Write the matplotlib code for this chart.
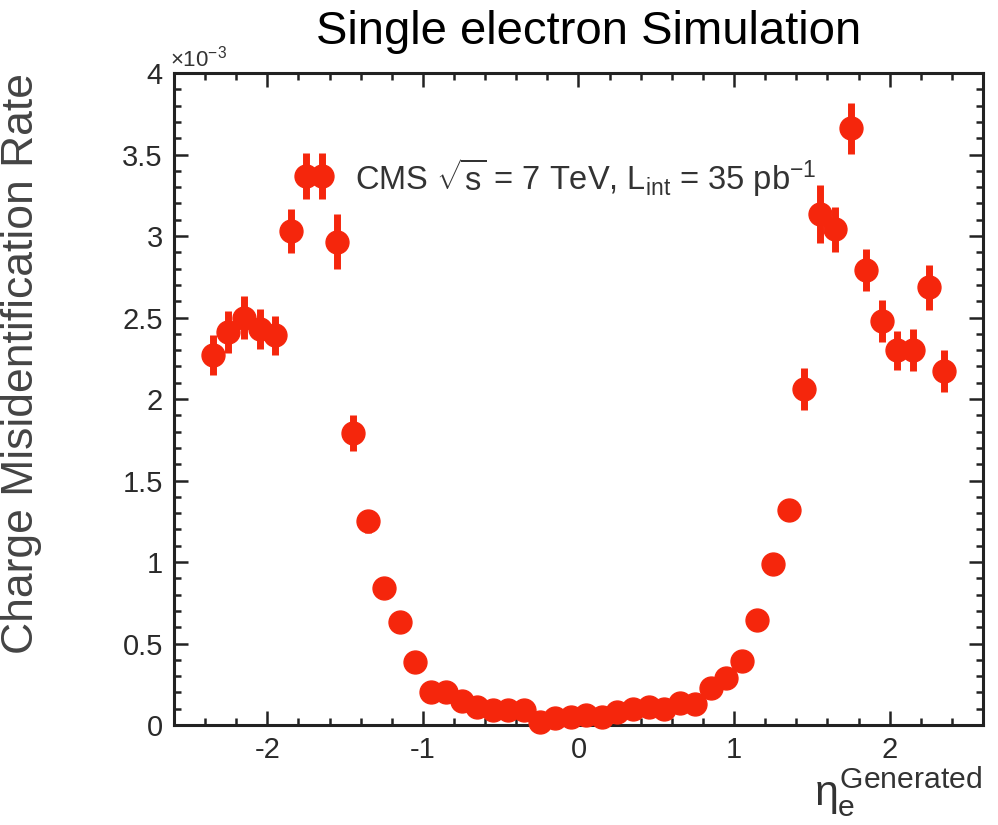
import matplotlib
matplotlib.use("Agg")
import matplotlib.pyplot as plt
from matplotlib.ticker import MultipleLocator, FixedLocator, FixedFormatter

plt.rcParams['font.family'] = ['Liberation Sans', 'DejaVu Sans']
plt.rcParams['mathtext.fontset'] = 'custom'
plt.rcParams['mathtext.rm'] = 'Liberation Sans'
plt.rcParams['mathtext.it'] = 'Liberation Sans'

# eta bin centres
eta = [-2.35, -2.25, -2.15, -2.05, -1.95, -1.85, -1.75, -1.65, -1.55, -1.45,
       -1.35, -1.25, -1.15, -1.05, -0.95, -0.85, -0.75, -0.65, -0.55, -0.45,
       -0.35, -0.25, -0.15, -0.05, 0.05, 0.15, 0.25, 0.35, 0.45, 0.55,
       0.65, 0.75, 0.85, 0.95, 1.05, 1.15, 1.25, 1.35, 1.45, 1.55,
       1.65, 1.75, 1.85, 1.95, 2.05, 2.15, 2.25, 2.35]
# charge misidentification rate (x 1e-3)
rate = [2.27, 2.41, 2.50, 2.43, 2.39, 3.03, 3.37, 3.37, 2.965, 1.79,
        1.25, 0.84, 0.634, 0.385, 0.20, 0.205, 0.15, 0.11, 0.09, 0.09,
        0.09, 0.02, 0.04, 0.05, 0.06, 0.05, 0.08, 0.10, 0.11, 0.10,
        0.135, 0.13, 0.225, 0.29, 0.39, 0.644, 0.99, 1.32, 2.06, 3.135,
        3.04, 3.66, 2.79, 2.48, 2.30, 2.30, 2.685, 2.17]
# statistical uncertainty (x 1e-3)
err = [0.125, 0.13, 0.13, 0.125, 0.12, 0.135, 0.14, 0.14, 0.17, 0.11,
       0.07, 0.04, 0.03, 0.02, 0.015, 0.015, 0.012, 0.01, 0.01, 0.01,
       0.01, 0.005, 0.007, 0.007, 0.008, 0.007, 0.01, 0.01, 0.01, 0.01,
       0.012, 0.012, 0.015, 0.017, 0.02, 0.03, 0.045, 0.06, 0.13, 0.18,
       0.14, 0.155, 0.13, 0.13, 0.12, 0.13, 0.14, 0.13]

ytick_vals = [0, 0.5, 1, 1.5, 2, 2.5, 3, 3.5, 4]
ytick_labels = ['0', '0.5', '1', '1.5', '2', '2.5', '3', '3.5', '4']
xtick_vals = [-2, -1, 0, 1, 2]
xtick_labels = ['-2', '-1', '0', '1', '2']

red = '#f5260c'

fig = plt.figure(figsize=(9.98, 8.25), dpi=100)
ax = fig.add_axes([0.1743, 0.1212, 0.8107, 0.7903])

ax.errorbar(eta, rate, yerr=err, fmt='o', color=red, ms=16.5, mec=red,
            elinewidth=5, capsize=0, clip_on=False, zorder=3)

ax.set_xlim(-2.6, 2.6)
ax.set_ylim(0, 4)

ax.xaxis.set_major_locator(FixedLocator(xtick_vals))
ax.xaxis.set_major_formatter(FixedFormatter(xtick_labels))
ax.xaxis.set_minor_locator(MultipleLocator(0.2))
ax.yaxis.set_major_locator(FixedLocator(ytick_vals))
ax.yaxis.set_major_formatter(FixedFormatter(ytick_labels))
ax.yaxis.set_minor_locator(MultipleLocator(0.1))

ax.tick_params(which='both', direction='in', top=True, right=True,
               width=1.8, colors='#222222', labelcolor='#2a2a2a',
               labelsize=21)
ax.tick_params(which='major', length=10, pad=8)
ax.tick_params(which='minor', length=5)
for s in ax.spines.values():
    s.set_linewidth(2.2)
    s.set_color('#222222')

ax.text(-0.005, 1.003, r'$\times$10$^{-3}$', transform=ax.transAxes,
        fontsize=16, color='#333333', ha='left', va='bottom')

ax.set_ylabel('Charge Misidentification Rate', fontsize=32, color='#444444')
ax.yaxis.set_label_coords(-0.163, 0.554)

fig.text(0.590, 0.961, 'Single electron Simulation', fontsize=34,
         ha='center', va='center', color='black')

ax.text(0.224, 0.839, r'CMS $\sqrt{\mathrm{s}}$ = 7 TeV, L$_{\mathrm{int}}$ = 35 pb$^{\mathrm{-1}}$',
        transform=ax.transAxes, fontsize=23.5, color='#333333',
        ha='left', va='center')

fig.text(0.9, 0.040, r'$\eta_{\mathrm{e}}^{\mathrm{Generated}}$', fontsize=31,
         ha='center', va='center', color='#333333')

fig.savefig('out.png', dpi=100)
